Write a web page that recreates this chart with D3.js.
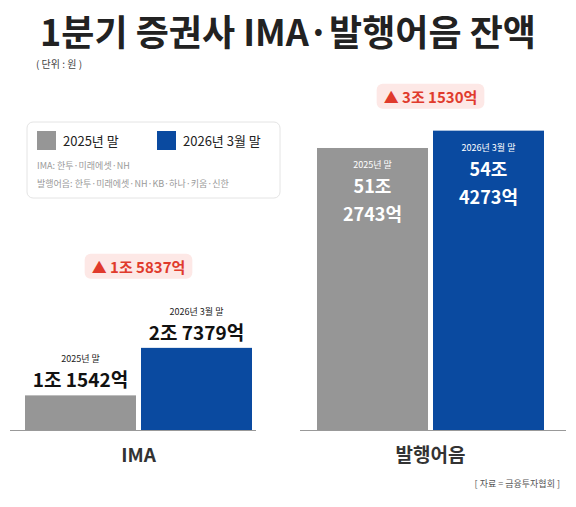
<!DOCTYPE html><html><head><meta charset="utf-8"><script src="https://cdn.jsdelivr.net/npm/d3@7"></script>
<style>body{margin:0;background:#fff}text{font-family:"Noto Sans CJK KR",sans-serif}</style></head><body><svg id="c" width="576" height="507"></svg>
<script>
const categories=["IMA","발행어음"];
const series=["2025년 말","2026년 3월 말"];
const v2025=[1.1542,51.2743];
const v2026=[2.7379,54.4273];
const labels2025=[["1조 1542억"],["51조","2743억"]];
const labels2026=[["2조 7379억"],["54조","4273억"]];
const diffs=["▲ 1조 5837억","▲ 3조 1530억"];
const colors=["#969696","#0a4aa0"];
const svg=d3.select("#c");
svg.append("text").attr("x",288).attr("y",46).attr("text-anchor","middle").attr("font-size",36).attr("font-weight",700).attr("fill","#222").text("1분기 증권사 IMA·발행어음 잔액");
svg.append("text").attr("x",36).attr("y",68).attr("font-size",10).attr("fill","#444").text("( 단위 : 원 )");
const base=430;
const panels=[{x0:10,x1:256,bx:[25,141],bw:111,y:d3.scaleLinear().domain([0,10]).range([base,base-300])},
 {x0:300,x1:566,bx:[317,433],bw:111,y:d3.scaleLinear().domain([0,60]).range([base,base-330])}];
panels.forEach((p,i)=>{
 const vals=[v2025[i],v2026[i]];
 vals.forEach((v,j)=>{
  svg.append("rect").attr("x",p.bx[j]).attr("width",p.bw).attr("y",p.y(v)).attr("height",base-p.y(v)).attr("fill",colors[j]);
 });
 svg.append("line").attr("x1",p.x0).attr("x2",p.x1).attr("y1",base+0.5).attr("y2",base+0.5).attr("stroke","#999");
 svg.append("text").attr("x",(p.bx[0]+p.bx[1]+p.bw)/2).attr("y",462).attr("text-anchor","middle").attr("font-size",19).attr("font-weight",700).attr("fill","#333").text(categories[i]);
 const topY=p.y(v2026[i]);
 const dx=(p.bx[0]+p.bx[1]+p.bw)/2, dy=i==0?topY-75:topY-28;
 const g=svg.append("g");
 const t=g.append("text").attr("x",dx).attr("y",dy).attr("text-anchor","middle").attr("font-size",15).attr("font-weight",700).attr("fill","#e03a2c").text(diffs[i]);
 const bb=t.node().getBBox();
 g.insert("rect","text").attr("x",bb.x-7).attr("y",bb.y-2).attr("width",bb.width+14).attr("height",bb.height+4).attr("rx",6).attr("fill","#fde8e6");
});
const pL=panels[0];
[[v2025[0],labels2025[0],series[0]],[v2026[0],labels2026[0],series[1]]].forEach((d,j)=>{
 const cx=pL.bx[j]+pL.bw/2, ty=pL.y(d[0]);
 svg.append("text").attr("x",cx).attr("y",ty-33).attr("text-anchor","middle").attr("font-size",9).attr("fill","#222").text(d[2]);
 svg.append("text").attr("x",cx).attr("y",ty-8).attr("text-anchor","middle").attr("font-size",19).attr("font-weight",700).attr("fill","#111").text(d[1][0]);
});
const pR=panels[1];
[[v2025[1],labels2025[1],series[0]],[v2026[1],labels2026[1],series[1]]].forEach((d,j)=>{
 const cx=pR.bx[j]+pR.bw/2, ty=pR.y(d[0]);
 svg.append("text").attr("x",cx).attr("y",ty+20).attr("text-anchor","middle").attr("font-size",9).attr("fill","#fff").text(d[2]);
 svg.append("text").attr("x",cx).attr("y",ty+45).attr("text-anchor","middle").attr("font-size",18).attr("font-weight",700).attr("fill","#fff").text(d[1][0]);
 svg.append("text").attr("x",cx).attr("y",ty+73).attr("text-anchor","middle").attr("font-size",18).attr("font-weight",700).attr("fill","#fff").text(d[1][1]);
});
svg.append("rect").attr("x",27).attr("y",122).attr("width",253).attr("height",76).attr("rx",6).attr("fill","#fff").attr("stroke","#e4e4e4");
[[37,series[0]],[157,series[1]]].forEach((d,j)=>{
 svg.append("rect").attr("x",d[0]).attr("y",131).attr("width",19).attr("height",19).attr("fill",colors[j]);
 svg.append("text").attr("x",d[0]+26).attr("y",146).attr("font-size",13).attr("fill","#222").text(d[1]);
});
svg.append("text").attr("x",37).attr("y",169).attr("font-size",9).attr("fill","#999").text("IMA: 한투·미래에셋·NH");
svg.append("text").attr("x",37).attr("y",187).attr("font-size",9).attr("fill","#999").text("발행어음: 한투·미래에셋·NH·KB·하나·키움·신한");
svg.append("text").attr("x",560).attr("y",487).attr("text-anchor","end").attr("font-size",9).attr("fill","#555").text("[ 자료 = 금융투자협회 ]");
</script></body></html>
